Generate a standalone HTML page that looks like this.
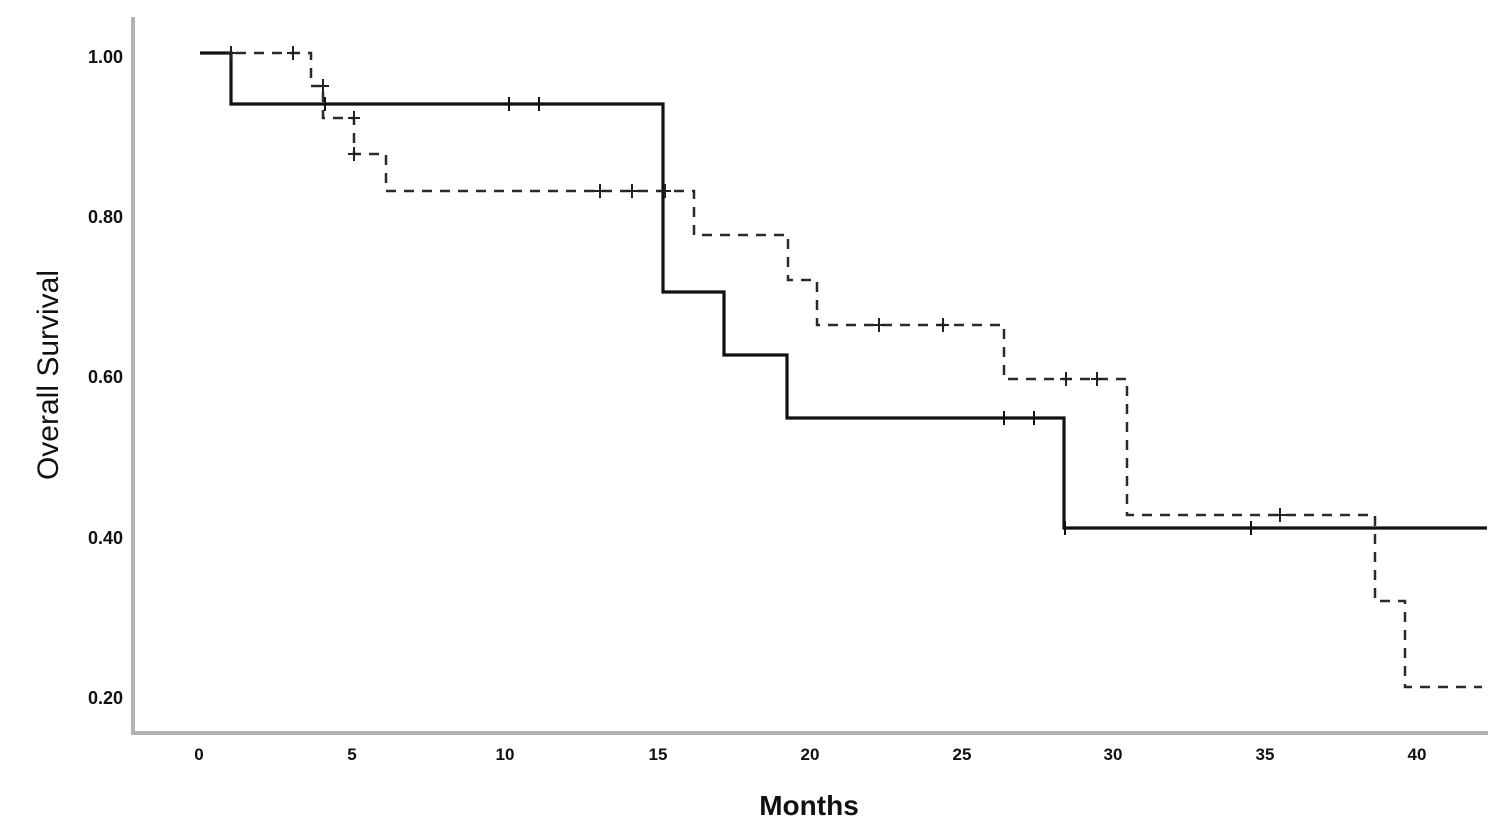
<!DOCTYPE html>
<html>
<head>
<meta charset="utf-8">
<style>
html,body{margin:0;padding:0;background:#fff;}
svg{display:block;}
text{font-family:"Liberation Sans",Arial,sans-serif;fill:#111;}
</style>
</head>
<body>
<svg width="1500" height="839" viewBox="0 0 1500 839" xmlns="http://www.w3.org/2000/svg">
<rect width="1500" height="839" fill="#fff"/>
<!-- axes -->
<line x1="133" y1="17" x2="133" y2="735" stroke="#b4b4b4" stroke-width="4"/>
<line x1="131" y1="733" x2="1488" y2="733" stroke="#b4b4b4" stroke-width="4"/>
<!-- y tick labels -->
<g font-size="18" font-weight="bold" text-anchor="end">
<text x="123" y="63">1.00</text>
<text x="123" y="223">0.80</text>
<text x="123" y="383">0.60</text>
<text x="123" y="544">0.40</text>
<text x="123" y="704">0.20</text>
</g>
<!-- x tick labels -->
<g font-size="17" font-weight="bold" text-anchor="middle">
<text x="199" y="760">0</text>
<text x="352" y="760">5</text>
<text x="505" y="760">10</text>
<text x="658" y="760">15</text>
<text x="810" y="760">20</text>
<text x="962" y="760">25</text>
<text x="1113" y="760">30</text>
<text x="1265" y="760">35</text>
<text x="1417" y="760">40</text>
</g>
<!-- axis titles -->
<text x="809" y="815" font-size="28" font-weight="bold" text-anchor="middle">Months</text>
<text transform="translate(58,375) rotate(-90)" font-size="30" text-anchor="middle">Overall Survival</text>
<!-- dashed curve -->
<path d="M200,53 H311 V86 H323 V118 H354 V154 H386 V191 H694 V235 H788 V280 H817 V325 H1004 V379 H1127 V515 H1375 V601 H1405 V687 H1482" fill="none" stroke="#2a2a2a" stroke-width="2.5" stroke-dasharray="10,8"/>
<!-- solid curve -->
<path d="M200,53 H231 V104 H663 V292 H724 V355 H787 V418 H1064 V528 H1487" fill="none" stroke="#111" stroke-width="3.2"/>
<!-- dashed censor marks (+) -->
<g stroke="#222" stroke-width="2">
<path d="M231,46 V60 M225,53 H237"/>
<path d="M293,46 V60 M287,53 H299"/>
<path d="M323,79 V93 M317,86 H329"/>
<path d="M354,111 V125 M348,118 H360"/>
<path d="M354,147 V161 M348,154 H360"/>
<path d="M600,184 V198 M594,191 H606"/>
<path d="M632,184 V198 M626,191 H638"/>
<path d="M665,184 V198 M659,191 H671"/>
<path d="M879,318 V332 M873,325 H885"/>
<path d="M943,318 V332 M937,325 H949"/>
<path d="M1066,372 V386 M1060,379 H1072"/>
<path d="M1097,372 V386 M1091,379 H1103"/>
<path d="M1280,508 V522 M1274,515 H1286"/>
</g>
<!-- solid censor marks -->
<g stroke="#111" stroke-width="2">
<path d="M325,97 V111"/>
<path d="M509,97 V111"/>
<path d="M539,97 V111"/>
<path d="M1004,411 V425"/>
<path d="M1034,411 V425"/>
<path d="M1065,521 V535"/>
<path d="M1251,521 V535"/>
</g>
</svg>
</body>
</html>
